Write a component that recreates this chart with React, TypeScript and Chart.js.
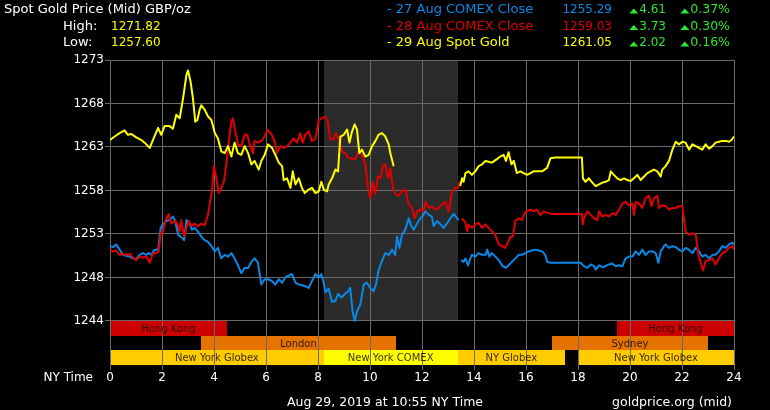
import React, { useEffect, useRef } from 'react';
import { Chart, registerables } from 'chart.js';

Chart.register(...registerables);

const FONT = '"DejaVu Sans", Verdana, sans-serif';

// ---- series: [NY hour, GBP/oz]; null marks a break in the line ----
const spotAug29: [number, number | null][] = [
  [0.00,1263.8],[0.18,1264.2],[0.37,1264.6],[0.56,1264.9],[0.69,1264.4],[0.82,1264.5],[1.01,1264.1],[1.21,1263.8],[1.33,1263.5],[1.53,1262.9],
  [1.65,1263.8],[1.85,1265.2],[1.97,1264.4],[2.10,1265.4],[2.29,1265.4],[2.42,1265.1],[2.55,1266.7],[2.68,1266.3],[2.81,1268.6],[2.94,1271.3],
  [3.00,1271.8],[3.10,1270.5],[3.19,1268.6],[3.28,1265.9],[3.36,1266.1],[3.45,1267.3],[3.51,1267.8],[3.64,1267.3],[3.77,1266.5],[3.90,1266.1],
  [4.03,1264.6],[4.15,1264.0],[4.28,1262.5],[4.41,1262.3],[4.54,1263.1],[4.67,1261.9],[4.79,1263.5],[4.92,1262.3],[5.05,1262.1],[5.18,1263.1],
  [5.31,1262.3],[5.44,1261.0],[5.56,1261.4],[5.72,1260.4],[5.82,1261.4],[5.95,1262.1],[6.08,1263.3],[6.23,1262.9],[6.36,1262.1],[6.49,1261.2],
  [6.62,1260.8],[6.68,1259.2],[6.81,1259.4],[6.94,1258.3],[7.03,1260.2],[7.13,1258.7],[7.26,1259.4],[7.38,1258.3],[7.49,1257.7],[7.64,1258.1],
  [7.77,1258.3],[7.90,1257.7],[8.03,1257.9],[8.13,1259.0],[8.22,1258.1],[8.35,1257.9],[8.41,1258.7],[8.54,1259.4],[8.67,1260.4],[8.77,1260.2],
  [8.86,1264.2],[8.99,1264.4],[9.12,1265.0],[9.21,1263.5],[9.31,1264.8],[9.41,1265.6],[9.50,1265.0],[9.59,1262.3],[9.69,1262.7],[9.82,1261.9],
  [9.95,1262.1],[10.08,1263.1],[10.21,1263.7],[10.33,1264.4],[10.46,1264.6],[10.59,1264.2],[10.72,1263.3],[10.78,1262.3],[10.91,1260.8],[10.95,null],
  [13.47,1258.5],[13.54,1259.4],[13.60,1259.0],[13.67,1260.0],[13.79,1260.2],[13.92,1259.8],[14.05,1260.2],[14.18,1260.8],[14.31,1261.0],[14.44,1261.4],
  [14.56,1261.3],[14.69,1261.2],[14.88,1261.6],[15.01,1261.9],[15.14,1262.1],[15.23,1261.4],[15.33,1262.4],[15.44,1261.0],[15.53,1261.4],[15.65,1260.0],
  [15.78,1260.2],[15.91,1260.0],[16.04,1259.8],[16.17,1260.0],[16.29,1260.2],[16.42,1260.2],[16.62,1260.2],[16.81,1260.6],[16.94,1261.7],[17.13,1261.8],
  [18.15,1261.8],[18.19,1259.4],[18.29,1259.0],[18.42,1259.4],[18.55,1258.9],[18.68,1258.5],[18.81,1258.7],[18.94,1258.9],[19.06,1259.0],[19.19,1259.2],
  [19.26,1260.2],[19.38,1259.8],[19.51,1259.4],[19.64,1259.2],[19.77,1259.4],[19.90,1259.2],[20.03,1259.1],[20.15,1259.4],[20.28,1259.8],[20.41,1259.2],
  [20.54,1259.6],[20.67,1260.0],[20.79,1260.2],[20.92,1260.4],[21.05,1260.2],[21.18,1259.6],[21.24,1260.4],[21.37,1260.8],[21.50,1261.4],[21.63,1262.7],
  [21.76,1263.6],[21.88,1263.3],[22.01,1263.6],[22.14,1263.5],[22.27,1262.7],[22.40,1263.3],[22.53,1263.1],[22.65,1262.9],[22.78,1262.7],[22.91,1263.3],
  [23.04,1262.8],[23.17,1263.1],[23.29,1263.5],[23.42,1263.6],[23.55,1263.7],[23.68,1263.7],[23.81,1263.6],[23.91,1263.8],[24.00,1264.2],
];

const comexAug28: [number, number | null][] = [
  [0.00,1251.2],[0.12,1251.0],[0.24,1251.1],[0.37,1250.6],[0.50,1250.7],[0.63,1250.6],[0.76,1250.7],[0.88,1250.3],[1.01,1250.0],[1.14,1250.4],
  [1.27,1250.3],[1.40,1250.4],[1.53,1249.7],[1.65,1250.8],[1.78,1250.8],[1.87,1251.0],[1.95,1253.1],[2.04,1253.3],[2.14,1254.6],[2.26,1255.3],
  [2.36,1254.2],[2.49,1254.5],[2.59,1254.2],[2.68,1253.3],[2.74,1254.6],[2.85,1252.7],[2.94,1253.7],[3.03,1254.5],[3.13,1253.9],[3.26,1254.2],
  [3.38,1253.9],[3.51,1254.2],[3.64,1254.0],[3.77,1255.2],[3.87,1257.1],[3.92,1257.9],[4.00,1260.8],[4.09,1259.4],[4.18,1257.7],[4.28,1258.3],
  [4.38,1259.0],[4.47,1261.0],[4.56,1263.3],[4.67,1266.0],[4.73,1266.3],[4.82,1264.8],[4.92,1263.3],[5.05,1263.1],[5.18,1264.4],[5.28,1264.4],
  [5.37,1263.3],[5.50,1262.3],[5.56,1263.7],[5.69,1263.5],[5.82,1263.7],[5.95,1264.2],[6.05,1265.0],[6.23,1264.4],[6.36,1263.3],[6.42,1262.3],
  [6.55,1263.1],[6.68,1262.9],[6.81,1263.1],[6.94,1263.5],[7.06,1264.0],[7.19,1263.5],[7.32,1264.6],[7.41,1263.5],[7.51,1264.4],[7.64,1264.8],
  [7.77,1263.7],[7.90,1263.9],[8.03,1266.1],[8.15,1266.3],[8.28,1266.5],[8.38,1265.9],[8.47,1263.9],[8.60,1263.9],[8.69,1264.6],[8.79,1263.9],
  [8.92,1262.5],[9.05,1262.3],[9.18,1261.7],[9.31,1261.7],[9.44,1261.6],[9.56,1262.5],[9.69,1262.1],[9.82,1261.0],[9.92,1258.3],[10.01,1257.1],
  [10.10,1259.0],[10.21,1257.6],[10.31,1259.6],[10.40,1259.4],[10.49,1260.8],[10.59,1261.0],[10.69,1259.4],[10.78,1260.6],[10.87,1258.5],[10.97,1257.6],
  [11.10,1257.4],[11.23,1257.9],[11.36,1258.1],[11.49,1256.4],[11.62,1256.0],[11.72,1254.8],[11.81,1255.6],[11.94,1255.8],[12.06,1255.6],[12.13,1256.7],
  [12.26,1256.0],[12.38,1256.2],[12.51,1255.8],[12.64,1256.0],[12.77,1256.4],[12.90,1256.7],[13.03,1255.6],[13.09,1256.7],[13.15,1257.9],[13.28,1258.3],
  [13.38,1258.3],[13.45,1259.0],[13.50,null],
  [13.54,1254.8],[13.67,1254.3],[13.73,1253.3],[13.79,1254.1],[13.92,1253.7],[14.05,1254.1],[14.18,1254.3],[14.31,1253.7],[14.44,1254.1],[14.56,1253.7],
  [14.69,1253.3],[14.82,1252.9],[14.95,1251.8],[15.08,1251.6],[15.18,1251.4],[15.27,1251.8],[15.40,1252.7],[15.49,1252.7],[15.59,1254.5],[15.72,1254.8],
  [15.85,1254.6],[15.95,1255.4],[16.04,1255.6],[16.17,1255.8],[16.29,1255.6],[16.42,1255.8],[16.55,1255.2],[16.68,1255.6],[16.87,1255.4],[17.00,1255.3],
  [18.15,1255.3],[18.18,1254.1],[18.23,1254.8],[18.36,1255.6],[18.49,1255.2],[18.62,1254.8],[18.74,1254.6],[18.81,1255.6],[18.94,1255.0],[19.06,1255.2],
  [19.19,1255.0],[19.32,1255.4],[19.45,1255.2],[19.58,1255.8],[19.71,1256.5],[19.83,1256.7],[19.96,1256.3],[20.09,1256.5],[20.15,1255.2],[20.22,1256.7],
  [20.35,1256.5],[20.47,1256.0],[20.60,1257.1],[20.73,1257.4],[20.83,1256.2],[20.92,1257.1],[21.05,1257.4],[21.12,1256.0],[21.24,1256.3],[21.37,1256.2],
  [21.50,1255.8],[21.63,1256.0],[21.76,1256.0],[21.88,1256.2],[22.01,1256.2],[22.14,1253.3],[22.27,1252.9],[22.40,1253.1],[22.53,1252.9],[22.63,1250.6],
  [22.72,1249.7],[22.81,1248.8],[22.91,1249.9],[23.04,1250.0],[23.17,1250.2],[23.29,1249.5],[23.42,1250.2],[23.55,1250.8],[23.68,1251.0],[23.81,1251.4],
  [23.94,1251.6],[24.00,1251.2],
];

const comexAug27: [number, number | null][] = [
  [0.00,1251.6],[0.12,1251.5],[0.24,1251.8],[0.37,1251.2],[0.50,1250.6],[0.63,1250.5],[0.76,1250.4],[0.88,1250.2],[1.01,1250.1],[1.14,1250.6],
  [1.27,1250.8],[1.40,1250.6],[1.49,1250.8],[1.59,1250.6],[1.72,1251.2],[1.85,1251.2],[1.95,1253.7],[2.04,1254.1],[2.17,1254.5],[2.29,1254.6],
  [2.42,1255.0],[2.51,1254.5],[2.62,1252.9],[2.72,1252.7],[2.85,1252.3],[2.94,1254.6],[3.06,1254.2],[3.15,1253.5],[3.26,1253.7],[3.38,1253.3],
  [3.51,1252.7],[3.64,1252.3],[3.77,1252.1],[3.90,1251.6],[4.03,1251.0],[4.15,1251.4],[4.28,1250.2],[4.41,1250.6],[4.54,1250.4],[4.67,1250.8],
  [4.79,1250.2],[4.92,1249.4],[5.05,1248.5],[5.18,1249.1],[5.31,1249.1],[5.44,1249.8],[5.56,1250.2],[5.69,1249.7],[5.82,1247.2],[5.95,1247.8],
  [6.08,1247.8],[6.23,1247.6],[6.36,1247.2],[6.49,1247.8],[6.62,1247.4],[6.74,1248.0],[6.87,1248.2],[7.00,1248.4],[7.13,1247.4],[7.26,1247.2],
  [7.38,1247.1],[7.51,1247.0],[7.64,1246.8],[7.77,1247.6],[7.90,1248.4],[8.03,1248.0],[8.13,1248.4],[8.22,1247.4],[8.28,1246.3],[8.41,1246.7],
  [8.54,1245.2],[8.67,1245.3],[8.77,1246.1],[8.90,1245.7],[9.03,1246.1],[9.15,1246.4],[9.24,1246.8],[9.33,1244.1],[9.41,1243.0],[9.50,1244.1],
  [9.63,1244.9],[9.76,1247.2],[9.88,1247.4],[10.01,1246.8],[10.14,1246.4],[10.23,1247.2],[10.33,1248.8],[10.46,1249.9],[10.59,1250.8],[10.72,1250.6],
  [10.85,1251.2],[10.97,1250.6],[11.04,1252.7],[11.13,1251.4],[11.23,1252.9],[11.36,1253.5],[11.49,1254.8],[11.59,1253.9],[11.68,1253.5],[11.81,1254.2],
  [11.94,1254.8],[12.06,1255.2],[12.13,1255.6],[12.26,1255.2],[12.38,1255.0],[12.45,1253.9],[12.58,1254.5],[12.71,1254.1],[12.83,1253.7],[12.96,1254.2],
  [13.09,1254.8],[13.22,1255.3],[13.35,1254.8],[13.41,1254.6],[13.46,null],
  [13.51,1250.0],[13.60,1249.8],[13.67,1250.2],[13.77,1249.4],[13.86,1250.2],[13.92,1250.6],[14.05,1250.4],[14.18,1250.8],[14.31,1250.6],[14.44,1250.6],
  [14.51,1251.2],[14.59,1250.4],[14.69,1250.8],[14.82,1250.4],[14.95,1250.0],[15.08,1249.4],[15.23,1249.1],[15.33,1249.4],[15.46,1249.8],[15.59,1250.2],
  [15.72,1250.6],[15.85,1250.6],[15.97,1250.8],[16.10,1251.0],[16.23,1251.1],[16.36,1251.2],[16.49,1251.1],[16.62,1251.0],[16.74,1250.6],[16.81,1249.8],
  [16.94,1249.7],[17.13,1249.7],[18.10,1249.7],[18.23,1249.3],[18.36,1249.1],[18.49,1249.5],[18.62,1249.3],[18.68,1248.9],[18.81,1249.4],[18.94,1249.2],
  [19.06,1249.3],[19.19,1249.5],[19.32,1249.6],[19.45,1249.3],[19.58,1249.4],[19.71,1249.3],[19.83,1250.2],[19.96,1250.4],[20.09,1250.4],[20.22,1251.0],
  [20.35,1250.6],[20.47,1251.2],[20.60,1250.6],[20.73,1251.0],[20.86,1251.0],[20.99,1250.8],[21.09,1249.7],[21.18,1251.0],[21.31,1251.6],[21.37,1251.8],
  [21.50,1251.4],[21.63,1251.6],[21.76,1251.5],[21.88,1251.2],[22.01,1251.0],[22.14,1251.4],[22.27,1251.2],[22.40,1250.8],[22.53,1251.4],[22.65,1251.0],
  [22.78,1250.4],[22.91,1250.6],[23.04,1250.2],[23.17,1250.6],[23.29,1250.6],[23.42,1251.0],[23.55,1251.6],[23.68,1251.4],[23.81,1251.8],[23.94,1252.0],
  [24.00,1251.8],
];

// ---- texts & labels ----
const titleText = 'Spot Gold Price (Mid) GBP/oz';
const highLowLabels = ['High:', 'Low:'];
const highLowValues = ['1271.82', '1257.60'];
const legendLabels = ['- 27 Aug COMEX Close', '- 28 Aug COMEX Close', '- 29 Aug Spot Gold'];
const legendPrices = ['1255.29', '1259.03', '1261.05'];
const legendChanges = ['4.61', '3.73', '2.02'];
const legendPercents = ['0.37%', '0.30%', '0.16%'];
const seriesColors = ['#0a88e6', '#e00000', '#ffff00'];
const xTickHours = [0, 2, 4, 6, 8, 10, 12, 14, 16, 18, 20, 22, 24];
const yTickValues = [1243, 1248, 1253, 1258, 1263, 1268, 1273];
const yTickLabels = ['1244', '1248', '1253', '1258', '1263', '1268', '1273'];
const xAxisName = 'NY Time';
const footerLeft = 'Aug 29, 2019 at 10:55 NY Time';
const footerRight = 'goldprice.org (mid)';

// ---- COMEX shading and market sessions (hours) ----
const comexShade = [8.22, 13.37];
const sessionNames = ['Hong Kong', 'Hong Kong', 'London', 'Sydney', 'New York Globex', 'New York COMEX', 'NY Globex', 'New York Globex'];
const sessionStart = [0, 19.5, 3.5, 17, 0, 8.22, 13.37, 18];
const sessionEnd = [4.5, 24, 11, 23, 8.22, 13.37, 17.5, 24];
const sessionRow = [0, 0, 1, 1, 2, 2, 2, 2];
const sessionColor = ['#cc0000', '#cc0000', '#e67300', '#e67300', '#ffcc00', '#ffff00', '#ffcc00', '#ffcc00'];

const toPoints = (arr: [number, number | null][]) => arr.map(([x, y]) => ({ x, y }));

const GRID = '#6a6a6a';
const GREEN = '#2ee62e';

function upTriangle(ctx: CanvasRenderingContext2D, right: number, cy: number) {
  ctx.beginPath();
  ctx.moveTo(right - 9, cy + 2.5);
  ctx.lineTo(right, cy + 2.5);
  ctx.lineTo(right - 4.5, cy - 2.5);
  ctx.closePath();
  ctx.fill();
}

const decor = {
  id: 'decor',
  beforeDraw(chart: any) {
    const { ctx, chartArea: a, scales } = chart;
    const x = scales.x, y = scales.y;
    ctx.save();
    ctx.fillStyle = '#000';
    ctx.fillRect(0, 0, chart.width, chart.height);
    const baseY = Math.round(y.getPixelForValue(yTickValues[0]));
    const s0 = Math.round(x.getPixelForValue(comexShade[0]));
    const s1 = Math.round(x.getPixelForValue(comexShade[1]));
    ctx.fillStyle = '#2b2b2b';
    ctx.fillRect(s0, a.top, s1 - s0, baseY - a.top);
    const rowH = (a.bottom - baseY) / 3;
    for (let i = 0; i < sessionNames.length; i++) {
      const x0 = Math.round(x.getPixelForValue(sessionStart[i]));
      const x1 = Math.round(x.getPixelForValue(sessionEnd[i]));
      const y0 = Math.round(baseY + sessionRow[i] * rowH);
      const y1 = Math.round(baseY + (sessionRow[i] + 1) * rowH);
      ctx.fillStyle = sessionColor[i];
      ctx.fillRect(x0, y0, x1 - x0, y1 - y0);
    }
    ctx.restore();
  },
  beforeDatasetsDraw(chart: any) {
    const { ctx, chartArea: a, scales } = chart;
    const x = scales.x, y = scales.y;
    const baseY = Math.round(y.getPixelForValue(yTickValues[0]));
    const rowH = (a.bottom - baseY) / 3;
    ctx.save();
    ctx.font = `10px ${FONT}`;
    ctx.fillStyle = 'rgba(20,10,0,0.85)';
    ctx.textAlign = 'center';
    ctx.textBaseline = 'middle';
    for (let i = 0; i < sessionNames.length; i++) {
      const cx = (x.getPixelForValue(sessionStart[i]) + x.getPixelForValue(sessionEnd[i])) / 2;
      const cy = baseY + (sessionRow[i] + 0.5) * rowH + 1;
      ctx.fillText(sessionNames[i], cx, cy);
    }
    ctx.restore();
  },
  afterDraw(chart: any) {
    const { ctx } = chart;
    ctx.save();
    ctx.textBaseline = 'middle';
    ctx.textAlign = 'left';
    ctx.fillStyle = '#ffffff';
    ctx.font = `13px ${FONT}`;
    ctx.fillText(titleText, 4, 10);
    const rowY = [10, 26.5, 43];
    for (let i = 0; i < 2; i++) {
      ctx.textAlign = 'left';
      ctx.fillStyle = '#ffffff';
      ctx.font = `13px ${FONT}`;
      ctx.fillText(highLowLabels[i], 63, rowY[i + 1]);
      ctx.fillStyle = '#ffff00';
      ctx.font = `12px ${FONT}`;
      ctx.fillText(highLowValues[i], 111, rowY[i + 1]);
    }
    for (let i = 0; i < 3; i++) {
      const cy = rowY[i];
      ctx.fillStyle = seriesColors[i];
      ctx.textAlign = 'left';
      ctx.font = `13px ${FONT}`;
      ctx.fillText(legendLabels[i], 387, cy);
      ctx.textAlign = 'right';
      ctx.font = `12px ${FONT}`;
      ctx.fillText(legendPrices[i], 612, cy);
      ctx.fillStyle = GREEN;
      ctx.fillText(legendChanges[i], 666, cy);
      const w1 = ctx.measureText(legendChanges[i]).width;
      upTriangle(ctx, 666 - w1 - 1, cy + 1);
      ctx.font = `12.5px ${FONT}`;
      ctx.fillText(legendPercents[i], 730, cy);
      const w2 = ctx.measureText(legendPercents[i]).width;
      upTriangle(ctx, 730 - w2 - 1, cy + 1);
    }
    ctx.fillStyle = '#ffffff';
    ctx.font = `12px ${FONT}`;
    ctx.textAlign = 'right';
    ctx.fillText(xAxisName, 93, 378);
    ctx.font = `12.5px ${FONT}`;
    ctx.textAlign = 'center';
    ctx.fillText(footerLeft, 385, 403);
    ctx.textAlign = 'right';
    ctx.fillText(footerRight, 732, 403);
    ctx.restore();
  },
};

export default function App() {
  const ref = useRef<HTMLCanvasElement | null>(null);
  useEffect(() => {
    document.body.style.margin = '0';
    document.body.style.background = '#000';
    const canvas = ref.current;
    if (!canvas) return;
    const line = (label: string, data: [number, number | null][], color: string) => ({
      label,
      data: toPoints(data),
      borderColor: color,
      backgroundColor: color,
      borderWidth: 2,
      pointRadius: 0,
      pointHoverRadius: 0,
      tension: 0,
      spanGaps: false,
      fill: false,
      borderJoinStyle: 'round' as const,
    });
    const chart = new Chart(canvas, {
      type: 'line',
      data: {
        datasets: [
          line('29 Aug Spot Gold', spotAug29, seriesColors[2]),
          line('28 Aug COMEX Close', comexAug28, seriesColors[1]),
          line('27 Aug COMEX Close', comexAug27, seriesColors[0]),
        ],
      },
      options: {
        animation: false,
        responsive: false,
        devicePixelRatio: 1,
        events: [],
        layout: { padding: { top: 60, right: 36, left: 0, bottom: 0 } },
        plugins: { legend: { display: false }, tooltip: { enabled: false }, title: { display: false } },
        scales: {
          x: {
            type: 'linear',
            min: 0,
            max: 24,
            afterBuildTicks: (s: any) => { s.ticks = xTickHours.map((v) => ({ value: v })); },
            afterFit: (s: any) => { s.height = 45; },
            ticks: {
              color: '#ffffff',
              font: { family: FONT, size: 12 },
              padding: 1,
              maxRotation: 0,
              autoSkip: false,
              callback: (v: any) => String(v),
            },
            grid: { color: GRID, lineWidth: 1, tickLength: 5, drawTicks: true },
            border: { display: false },
          },
          y: {
            type: 'linear',
            min: 1237.94,
            max: 1273,
            afterBuildTicks: (s: any) => { s.ticks = yTickValues.map((v) => ({ value: v })); },
            afterFit: (s: any) => { s.width = 110; },
            ticks: {
              color: '#ffffff',
              font: { family: FONT, size: 12 },
              padding: 1,
              autoSkip: false,
              callback: (_v: any, i: number) => yTickLabels[i],
            },
            grid: { color: GRID, lineWidth: 1, tickLength: 5, drawTicks: true },
            border: { display: false },
          },
        },
      },
      plugins: [decor],
    });
    return () => chart.destroy();
  }, []);
  return (
    <div style={{ position: 'fixed', left: 0, top: 0, width: 770, height: 410, background: '#000' }}>
      <canvas ref={ref} width={770} height={410} style={{ width: 770, height: 410, display: 'block' }} />
    </div>
  );
}
